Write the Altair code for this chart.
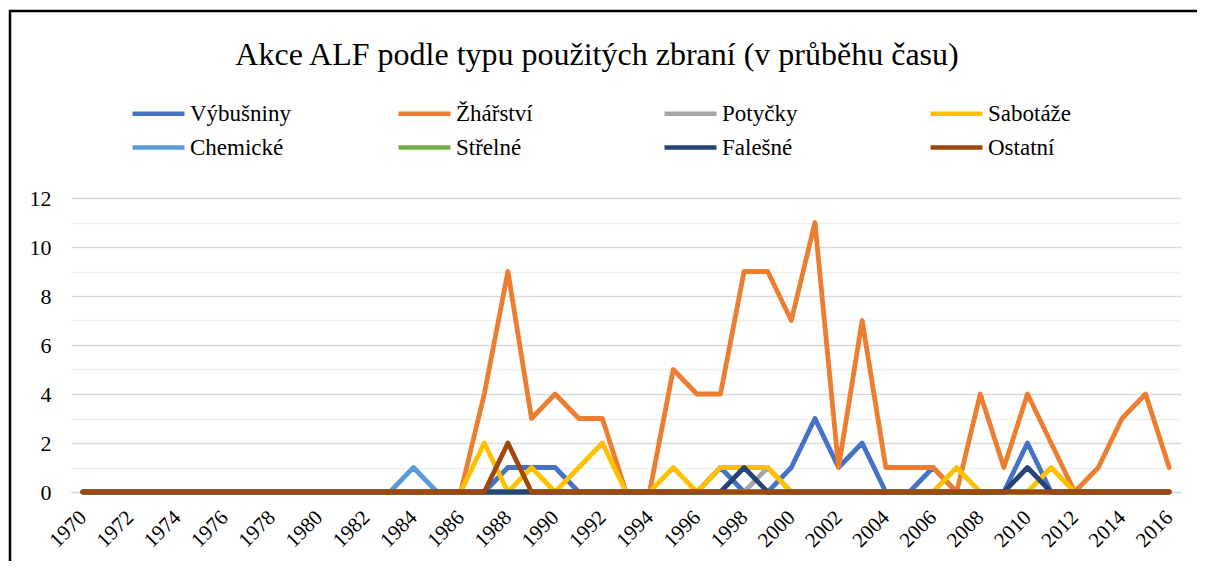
import altair as alt
import pandas as pd

years = list(range(1970, 2017))

series = ["Výbušniny", "Žhářství", "Potyčky", "Sabotáže",
          "Chemické", "Střelné", "Falešné", "Ostatní"]
colors = ["#4472C4", "#ED7D31", "#A5A5A5", "#FFC000",
          "#5B9BD5", "#70AD47", "#264478", "#9E480E"]

vybusniny = [0, 0, 0, 0, 0, 0, 0, 0, 0, 0,
             0, 0, 0, 0, 0, 0, 0, 0, 1, 1,
             1, 0, 0, 0, 0, 0, 0, 1, 0, 0,
             1, 3, 1, 2, 0, 0, 1, 0, 0, 0,
             2, 0, 0, 0, 0, 0, 0]
zharstvi = [0, 0, 0, 0, 0, 0, 0, 0, 0, 0,
            0, 0, 0, 0, 0, 0, 0, 4, 9, 3,
            4, 3, 3, 0, 0, 5, 4, 4, 9, 9,
            7, 11, 1, 7, 1, 1, 1, 0, 4, 1,
            4, 2, 0, 1, 3, 4, 1]
potycky = [0, 0, 0, 0, 0, 0, 0, 0, 0, 0,
           0, 0, 0, 0, 0, 0, 0, 0, 0, 0,
           0, 0, 0, 0, 0, 0, 0, 0, 0, 1,
           0, 0, 0, 0, 0, 0, 0, 0, 0, 0,
           0, 0, 0, 0, 0, 0, 0]
sabotaze = [0, 0, 0, 0, 0, 0, 0, 0, 0, 0,
            0, 0, 0, 0, 0, 0, 0, 2, 0, 1,
            0, 1, 2, 0, 0, 1, 0, 1, 1, 1,
            0, 0, 0, 0, 0, 0, 0, 1, 0, 0,
            0, 1, 0, 0, 0, 0, 0]
chemicke = [0, 0, 0, 0, 0, 0, 0, 0, 0, 0,
            0, 0, 0, 0, 1, 0, 0, 0, 0, 0,
            0, 0, 0, 0, 0, 0, 0, 0, 0, 0,
            0, 0, 0, 0, 0, 0, 0, 0, 0, 0,
            0, 0, 0, 0, 0, 0, 0]
strelne = [0, 0, 0, 0, 0, 0, 0, 0, 0, 0,
           0, 0, 0, 0, 0, 0, 0, 0, 0, 0,
           0, 0, 0, 0, 0, 0, 0, 0, 0, 0,
           0, 0, 0, 0, 0, 0, 0, 0, 0, 0,
           0, 0, 0, 0, 0, 0, 0]
falesne = [0, 0, 0, 0, 0, 0, 0, 0, 0, 0,
           0, 0, 0, 0, 0, 0, 0, 0, 0, 0,
           0, 0, 0, 0, 0, 0, 0, 0, 1, 0,
           0, 0, 0, 0, 0, 0, 0, 0, 0, 0,
           1, 0, 0, 0, 0, 0, 0]
ostatni = [0, 0, 0, 0, 0, 0, 0, 0, 0, 0,
           0, 0, 0, 0, 0, 0, 0, 0, 2, 0,
           0, 0, 0, 0, 0, 0, 0, 0, 0, 0,
           0, 0, 0, 0, 0, 0, 0, 0, 0, 0,
           0, 0, 0, 0, 0, 0, 0]

values = [vybusniny, zharstvi, potycky, sabotaze, chemicke, strelne, falesne, ostatni]
x_ticks = [1970, 1972, 1974, 1976, 1978, 1980, 1982, 1984, 1986, 1988, 1990, 1992,
           1994, 1996, 1998, 2000, 2002, 2004, 2006, 2008, 2010, 2012, 2014, 2016]
y_ticks = [0, 1, 2, 3, 4, 5, 6, 7, 8, 9, 10, 11, 12]

rows = []
for name, vals in zip(series, values):
    for yr, v in zip(years, vals):
        rows.append({"rok": yr, "pocet": v, "typ": name})
df = pd.DataFrame(rows)

FONT = "Liberation Serif, Times New Roman, Times, DejaVu Serif, serif"

x_enc = alt.X("rok:Q", scale=alt.Scale(domain=[1969.5, 2016.5], nice=False, zero=False),
              axis=alt.Axis(values=x_ticks, format="d", labelAngle=-45, labelAlign="right",
                            labelBaseline="middle", labelPadding=22, ticks=False,
                            domainColor="#d9d9d9", domainWidth=1.5, grid=False,
                            labelFontSize=21, labelColor="#000000",
                            labelOverlap=False, labelBound=False, labelFlush=False),
              title=None)
y_enc = alt.Y("pocet:Q", scale=alt.Scale(domain=[0, 12], nice=False),
              axis=alt.Axis(values=y_ticks, ticks=False, domain=False, grid=True,
                            gridColor={"condition": {"test": "datum.value % 2 == 1", "value": "#efefef"},
                                       "value": "#d9d9d9"},
                            gridWidth=1.5,
                            labelExpr="datum.value % 2 == 0 ? datum.label : ''",
                            labelFontSize=22, labelColor="#000000",
                            labelPadding=20),
              title=None)
color_enc = alt.Color("typ:N", scale=alt.Scale(domain=series, range=colors), title=None,
                      legend=alt.Legend(orient="none", legendX=75, legendY=-97, columns=4,
                                        direction="horizontal", gridAlign="all",
                                        symbolType="M-2.6,0H2.6", symbolSize=400,
                                        symbolStrokeWidth=4.5, labelOffset=19,
                                        columnPadding=98, rowPadding=9, padding=0,
                                        labelFontSize=23, labelColor="#000000",
                                        labelLimit=300))

layers = []
for name in series:
    layers.append(
        alt.Chart(df).transform_filter(alt.datum.typ == name)
        .mark_line(strokeWidth=4.8, strokeCap="round", strokeJoin="round")
        .encode(x=x_enc, y=y_enc, color=color_enc)
    )

frame = alt.Chart(alt.Data(values=[{"f": 1}])).mark_rect(
    fill="transparent", stroke="#000000", strokeWidth=2.5, clip=False
).encode(x=alt.value(-61), x2=alt.value(1220), y=alt.value(-187), y2=alt.value(600))

chart = alt.layer(frame, *layers).properties(
    width=1110, height=294,
    padding={"left": 63, "top": 190, "right": 16, "bottom": 69},
    autosize=alt.AutoSizeParams(type="none"),
    title=alt.TitleParams("Akce ALF podle typu použitých zbraní (v průběhu času)",
                          font=FONT, fontSize=32, fontWeight="normal", color="#000000",
                          anchor="middle", frame="group", dx=-29, dy=87, offset=0,
                          baseline="alphabetic"),
).configure(
    background="#ffffff", font=FONT
).configure_view(stroke=None).configure_axis(
    labelFont=FONT
).configure_legend(labelFont=FONT)

chart.save("out.html", embed_options={"renderer": "svg", "actions": False})
